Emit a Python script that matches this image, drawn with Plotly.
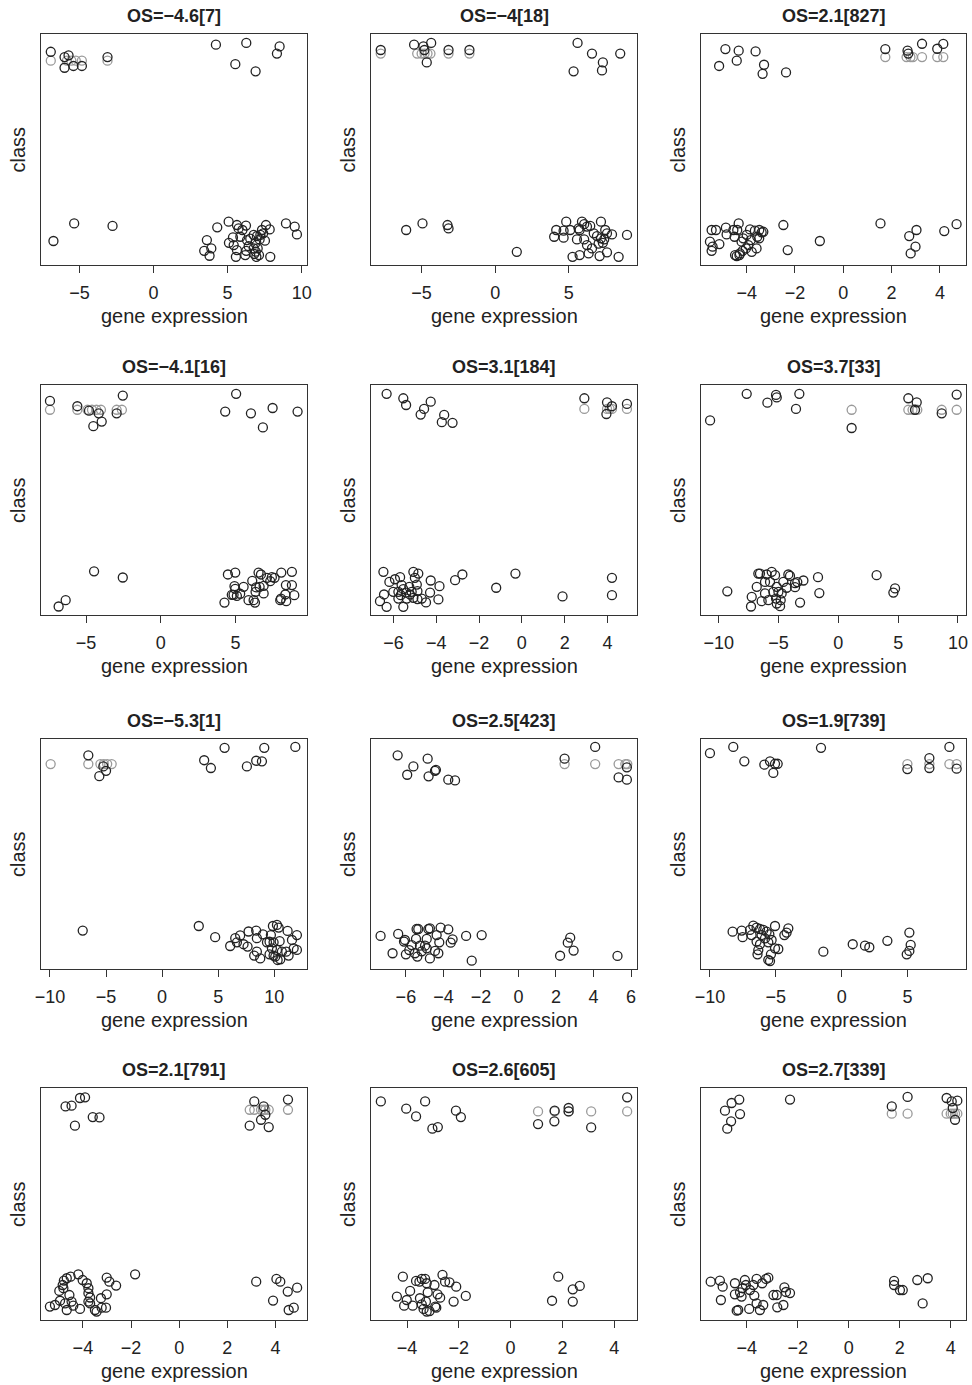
import plotly.graph_objects as go

# ---------------- data ----------------
titles = ["OS=\u22124.6[7]", "OS=\u22124[18]", "OS=2.1[827]",
          "OS=\u22124.1[16]", "OS=3.1[184]", "OS=3.7[33]",
          "OS=\u22125.3[1]", "OS=2.5[423]", "OS=1.9[739]",
          "OS=2.1[791]", "OS=2.6[605]", "OS=2.7[339]"]

x_ranges = [[-7.6, 10.36], [-8.44, 9.64], [-5.89, 5.08],
            [-8.01, 9.78], [-7.05, 5.38], [-11.48, 10.67],
            [-10.8, 12.92], [-7.86, 6.32], [-10.68, 9.44],
            [-5.74, 5.31], [-5.39, 4.88], [-5.79, 4.60]]
x_dtick = [5, 5, 2, 5, 2, 5, 5, 2, 5, 2, 2, 2]

# jittered class (black) points: [gene expression, class]
p1 = [[-6.94,1.05],[-6.01,1.02],[-5.74,1.03],[-6.01,0.96],[-5.41,0.97],[-4.84,0.97],[-3.11,1.02],
      [4.21,1.09],[6.26,1.10],[8.51,1.08],[8.33,1.04],[5.52,0.98],[6.89,0.94],
      [-5.36,0.084],[-2.77,0.07],[-6.76,-0.015],[4.30,0.062],[5.07,0.094],[5.63,0.075],[6.24,0.072],
      [5.74,0.056],[7.59,0.075],[7.84,0.05],[7.32,0.047],[8.94,0.084],[9.53,0.066],[9.68,0.022],
      [3.60,-0.01],[3.90,-0.057],[3.42,-0.07],[3.78,-0.098],[5.09,-0.025],[5.36,0.005],[5.41,-0.038],
      [5.63,-0.066],[5.86,0.009],[5.56,-0.104],[6.31,-0.01],[6.53,-0.002],[6.76,0.019],[6.98,0.013],
      [7.21,0.019],[7.16,-0.006],[7.52,-0.013],[6.87,-0.028],[6.76,-0.057],[7.03,-0.057],[6.26,-0.07],
      [6.19,-0.094],[6.80,-0.088],[6.94,-0.104],[7.12,-0.094],[7.88,-0.104],[6.42,-0.044],[6.0,0.047],
      [7.4,0.028],[6.9,-0.075]]
p2 = [[-7.78,1.06],[-5.51,1.09],[-4.88,1.08],[-4.35,1.10],[-4.81,1.06],[-4.65,0.99],[-3.17,1.06],
      [-1.75,1.06],[5.60,1.10],[6.58,1.04],[8.50,1.04],[7.32,0.99],[7.26,0.945],[5.33,0.94],
      [-6.05,0.047],[-4.94,0.084],[-3.24,0.075],[-3.17,0.056],[1.47,-0.076],
      [4.83,0.094],[4.15,0.047],[4.65,0.043],[5.10,0.047],[4.01,0.009],[4.65,0.004],[5.67,0.056],
      [5.90,0.094],[6.05,0.08],[6.24,0.066],[6.46,0.07],[5.74,0.047],[7.19,0.094],[7.48,0.047],
      [7.60,0.028],[7.94,0.022],[8.96,0.019],[6.92,0.013],[7.19,0.0],[7.41,-0.006],[7.32,-0.025],
      [5.56,-0.006],[6.05,-0.006],[6.24,-0.038],[6.58,-0.057],[6.35,-0.085],[5.74,-0.094],
      [5.26,-0.104],[7.10,-0.1],[7.60,-0.079],[8.39,-0.104],[6.7,0.028],[7.03,-0.03]]
p3 = [[-4.88,1.065],[-4.33,1.056],[-3.63,1.052],[-4.41,1.0],[-5.14,0.97],[-3.28,0.977],[-3.34,0.926],
      [-2.37,0.934],[1.74,1.065],[2.66,1.056],[3.26,1.095],[3.89,1.067],[4.14,1.094],[2.69,1.04],
      [-5.45,0.047],[-5.27,0.047],[-5.52,-0.019],[-5.41,-0.047],[-5.45,-0.07],[-5.13,-0.032],
      [-4.86,0.06],[-4.83,0.022],[-4.55,0.047],[-4.33,0.084],[-4.39,0.047],[-4.5,0.009],[-4.14,0.0],
      [-4.21,-0.019],[-4.0,0.019],[-3.86,0.05],[-3.66,0.043],[-3.48,0.047],[-3.38,0.034],[-3.31,0.037],
      [-3.56,0.009],[-3.48,0.0],[-3.93,-0.038],[-3.79,-0.076],[-3.59,-0.057],[-4.03,-0.057],
      [-4.17,-0.07],[-4.28,-0.085],[-4.41,-0.1],[-4.30,-0.094],[-4.48,-0.094],[-3.83,-0.01],
      [-2.48,0.075],[-2.30,-0.066],[-0.97,-0.015],[1.54,0.084],[4.69,0.08],[4.18,0.041],[3.03,0.047],
      [2.73,0.013],[2.99,-0.047],[2.79,-0.085]]
p4 = [[-7.41,1.06],[-5.58,1.03],[-4.80,1.005],[-2.54,1.09],[-2.95,0.99],[-3.95,0.943],[-4.51,0.917],
      [-4.15,0.99],[5.04,1.10],[4.31,1.0],[6.03,0.99],[7.48,1.02],[9.15,1.0],[6.83,0.91],
      [-4.46,0.097],[-2.54,0.062],[-6.36,-0.066],[-6.83,-0.102],
      [4.49,0.079],[4.98,0.09],[6.54,0.09],[6.70,0.079],[7.10,0.06],[7.43,0.064],[7.61,0.06],
      [7.32,0.041],[8.06,0.09],[8.77,0.094],[8.77,0.019],[8.37,0.019],[8.33,-0.034],[8.93,-0.038],
      [8.39,-0.072],[7.99,-0.066],[8.04,-0.057],[4.93,0.013],[4.98,-0.002],[5.54,0.009],[6.12,0.043],
      [6.38,0.006],[6.61,0.009],[6.34,-0.019],[6.88,-0.028],[6.21,-0.066],[5.87,-0.066],[6.30,-0.08],
      [5.31,-0.03],[4.87,-0.036],[5.09,-0.042],[4.75,-0.036],[4.26,-0.08],[6.88,0.015]]
p5 = [[-6.32,1.10],[-5.54,1.075],[-5.41,1.037],[-4.26,1.056],[-4.57,1.015],[-4.73,0.983],[-3.63,0.981],
      [-3.74,0.94],[-3.24,0.936],[2.92,1.075],[3.98,1.052],[4.21,1.03],[4.91,1.043],[3.95,0.986],
      [-6.47,0.094],[-6.19,0.037],[-5.93,0.052],[-5.69,0.064],[-5.07,0.094],[-4.84,0.084],[-5.0,0.06],
      [-4.91,0.022],[-4.26,0.045],[-3.85,0.013],[-4.29,-0.023],[-3.90,-0.062],[-4.48,-0.079],
      [-4.68,-0.057],[-4.88,-0.06],[-5.07,-0.053],[-5.23,-0.034],[-5.38,-0.057],[-5.54,-0.104],
      [-6.32,-0.104],[-6.63,-0.072],[-6.44,-0.034],[-6.01,-0.019],[-5.77,-0.019],[-5.66,-0.038],
      [-5.54,-0.004],[-5.41,-0.023],[-5.15,-0.019],[-4.88,-0.015],[-5.62,0.019],[-5.26,0.009],
      [-5.77,-0.057],[-3.12,0.047],[-2.78,0.079],[-1.20,0.004],[-0.30,0.084],[1.90,-0.045],
      [4.21,0.06],[4.21,-0.038]]
p6 = [[-7.66,1.10],[-5.21,1.094],[-5.15,1.08],[-5.93,1.05],[-3.26,1.10],[-3.54,1.015],[-10.72,0.95],
      [1.11,0.907],[5.85,1.075],[6.55,1.052],[9.89,1.096],[8.64,0.99],[6.41,1.01],
      [-9.28,-0.016],[-6.69,0.084],[-6.55,0.084],[-5.99,0.079],[-5.57,0.094],[-5.29,0.075],
      [-5.71,0.037],[-6.13,0.037],[-6.82,0.009],[-6.13,-0.028],[-6.41,-0.072],[-7.24,-0.047],
      [-7.30,-0.102],[-5.85,-0.066],[-5.21,-0.057],[-5.15,-0.085],[-4.87,-0.1],[-4.82,-0.066],
      [-4.74,-0.028],[-5.01,-0.019],[-4.60,0.037],[-4.18,0.079],[-4.04,0.071],[-4.32,0.004],
      [-3.62,0.03],[-3.43,0.036],[-2.92,0.045],[-3.62,0.007],[-3.20,-0.08],[-1.70,0.064],
      [-1.59,-0.026],[3.20,0.075],[4.74,0.0],[4.60,-0.023],[-5.15,0.009],[-5.43,-0.019]]
p7 = [[-6.58,1.058],[-5.60,0.94],[-5.0,0.97],[-5.24,0.995],[5.57,1.10],[9.11,1.10],[11.88,1.105],
      [3.75,1.03],[4.35,0.986],[7.56,0.995],[8.39,1.027],[8.90,1.024],
      [-7.08,0.067],[3.27,0.093],[4.73,0.03],
      [6.07,-0.02],[6.52,0.024],[6.96,0.04],[6.67,0.001],[7.26,-0.01],[7.62,-0.023],[7.71,0.062],
      [8.39,0.067],[8.45,0.024],[8.99,0.046],[8.45,-0.052],[8.21,-0.074],[8.75,-0.09],[9.88,0.093],
      [10.24,0.099],[10.39,0.084],[11.19,0.065],[12.02,0.042],[11.58,0.014],[11.73,-0.033],
      [12.02,-0.042],[11.07,-0.052],[11.28,-0.074],[9.70,0.042],[9.58,0.004],[9.94,0.001],
      [10.48,0.007],[9.79,-0.033],[10.24,-0.042],[9.58,-0.067],[10.09,-0.08],[10.30,-0.099],
      [10.54,-0.095],[10.68,-0.052],[9.35,0.001],[9.94,-0.074]]
p8 = [[-6.44,1.058],[-5.60,0.995],[-5.93,0.948],[-4.84,1.039],[-4.79,0.939],[-4.45,0.97],[-4.40,0.976],
      [-3.74,0.92],[-3.38,0.916],[2.46,1.039],[4.09,1.105],[5.34,0.933],[5.78,0.92],[5.78,0.99],
      [-7.35,0.037],[-6.41,0.048],[-6.71,-0.061],[-6.0,-0.067],[-6.05,0.014],[-6.10,0.005],
      [-5.43,0.076],[-5.34,0.076],[-5.46,0.02],[-5.69,-0.015],[-5.82,-0.043],[-5.52,-0.061],
      [-5.39,-0.08],[-5.25,-0.018],[-4.98,-0.018],[-4.89,0.02],[-4.80,0.076],[-4.72,0.08],
      [-4.89,-0.033],[-4.72,-0.09],[-4.45,-0.048],[-4.27,-0.061],[-4.36,0.042],[-4.22,0.001],
      [-4.15,0.084],[-3.74,0.074],[-3.51,0.018],[-3.61,-0.001],[-2.79,0.037],[-1.96,0.042],
      [-2.49,-0.103],[2.22,-0.075],[2.76,0.027],[2.63,-0.001],[2.94,-0.046],[5.28,-0.076],
      [-5.16,-0.05]]
p9 = [[-10.0,1.07],[-8.23,1.105],[-7.39,1.024],[-5.87,1.005],[-5.44,1.024],[-5.06,1.01],[-4.86,1.01],
      [-5.19,0.958],[-1.57,1.10],[4.99,0.98],[6.66,1.042],[6.66,0.986],[8.18,1.105],[8.73,0.982],
      [-8.28,0.061],[-7.59,0.067],[-7.52,0.03],[-6.71,0.095],[-6.96,0.071],[-6.84,0.042],
      [-6.46,0.084],[-6.20,0.076],[-5.95,0.071],[-5.70,0.061],[-5.49,0.046],[-6.08,0.042],
      [-6.46,0.005],[-6.20,-0.01],[-5.57,0.001],[-6.33,-0.043],[-6.39,-0.067],[-5.37,-0.067],
      [-5.57,-0.099],[-5.44,-0.105],[-5.06,-0.033],[-4.81,-0.037],[-5.06,0.093],[-4.35,0.042],
      [-4.18,0.056],[-4.05,0.08],[-1.39,-0.052],[0.84,-0.01],[1.77,-0.018],[2.10,-0.027],
      [3.47,0.009],[5.14,0.056],[5.24,-0.014],[5.14,-0.048],[4.94,-0.067],[-5.82,0.023],
      [-5.32,0.014]]
p10 = [[-4.72,1.047],[-4.47,1.051],[-4.12,1.094],[-3.91,1.098],[-4.33,0.939],[-3.59,0.987],
       [-3.31,0.985],[3.12,1.075],[3.51,1.047],[4.52,1.085],[2.93,0.939],[3.40,0.972],[3.72,0.931],
       [3.58,1.0],
       [-5.37,-0.075],[-5.16,-0.066],[-4.95,-0.042],[-4.98,0.013],[-4.84,0.046],[-4.79,0.071],
       [-4.67,0.084],[-4.51,0.093],[-4.19,0.106],[-4.01,0.074],[-3.84,0.056],[-3.77,0.028],
       [-3.77,0.0],[-4.81,0.028],[-4.74,-0.057],[-4.67,-0.094],[-4.47,-0.047],[-4.40,-0.07],
       [-4.12,-0.088],[-3.77,-0.047],[-3.70,-0.057],[-3.50,-0.094],[-3.43,-0.103],[-3.22,-0.081],
       [-3.04,-0.081],[-3.25,-0.028],[-3.01,-0.006],[-3.01,0.088],[-2.90,0.065],[-2.62,0.043],
       [-1.83,0.106],[3.20,0.065],[4.04,0.08],[4.20,0.065],[4.90,0.031],[4.51,0.009],[3.90,-0.041],
       [4.76,-0.081],[4.55,-0.094],[-3.70,-0.024],[-4.56,-0.01]]
p11 = [[-5.01,1.075],[-4.03,1.034],[-3.65,0.991],[-3.30,1.075],[-3.02,0.922],[-2.81,0.931],
       [-2.11,1.023],[-1.92,0.987],[1.06,0.948],[1.70,1.023],[1.69,0.963],[2.24,1.038],[2.24,1.019],
       [3.11,0.929],[4.50,1.098],
       [-4.16,0.093],[-4.39,-0.019],[-4.11,-0.07],[-4.01,-0.038],[-3.88,0.013],[-3.78,-0.07],
       [-3.65,0.069],[-3.52,0.065],[-3.43,0.08],[-3.30,0.08],[-3.24,0.056],[-3.50,-0.028],
       [-3.43,-0.062],[-3.36,-0.088],[-3.24,-0.103],[-3.13,-0.1],[-3.27,-0.047],[-3.20,0.005],
       [-2.94,0.046],[-2.87,-0.081],[-2.82,-0.006],[-2.63,0.103],[-2.53,0.065],[-2.36,0.061],
       [-2.72,-0.025],[-2.10,0.037],[-2.20,-0.047],[-1.73,-0.015],[1.84,0.093],[2.67,0.041],
       [2.40,0.022],[1.60,-0.042],[2.40,-0.047],[-2.91,-0.075]]
p12 = [[-4.85,1.023],[-4.59,1.066],[-4.29,1.085],[-4.26,1.004],[-4.61,0.963],[-4.76,0.922],
       [-2.30,1.085],[1.69,1.047],[2.31,1.10],[3.84,1.094],[4.04,1.075],[4.26,1.079],[4.08,1.038],
       [4.17,0.972],
       [-5.41,0.065],[-5.05,0.071],[-4.94,0.037],[-5.01,-0.038],[-4.46,0.056],[-4.46,-0.006],
       [-4.39,-0.098],[-4.33,-0.094],[-4.26,0.005],[-4.16,0.028],[-4.07,0.074],[-4.03,0.046],
       [-3.87,0.018],[-3.74,0.046],[-3.70,-0.013],[-3.61,0.08],[-3.90,-0.088],[-3.61,-0.057],
       [-3.48,-0.094],[-3.35,-0.066],[-3.39,0.056],[-3.24,0.08],[-3.15,0.087],[-2.95,-0.01],
       [-2.82,-0.01],[-2.80,-0.079],[-2.56,-0.066],[-2.52,0.033],[-2.46,0.007],[-2.30,0.001],
       [1.78,0.069],[1.78,0.046],[2.01,0.018],[2.12,0.018],[2.69,0.074],[3.10,0.084],[2.90,-0.057],
       [-4.20,-0.019]]
black_points = [p1, p2, p3, p4, p5, p6, p7, p8, p9, p10, p11, p12]

# un-jittered class-1 points (grey): gene expression values and their class level
g1 = [-6.94, -5.85, -5.55, -5.25, -4.84, -3.11]
g2 = [-7.78, -5.3, -5.0, -4.8, -4.6, -4.4, -3.17, -1.75]
g3 = [1.74, 2.62, 2.78, 2.88, 3.26, 3.89, 4.14]
g4 = [-7.41, -5.58, -4.9, -4.6, -4.3, -4.0, -2.95, -2.6]
g5 = [2.92, 3.98, 4.1, 4.21, 4.91]
g6 = [1.11, 5.85, 6.2, 6.41, 6.6, 8.64, 9.89]
g7 = [-9.94, -6.58, -5.5, -5.2, -4.9, -4.5]
g8 = [2.46, 4.09, 5.34, 5.7, 5.8]
g9 = [4.99, 6.66, 8.18, 8.73]
g10 = [2.93, 3.12, 3.40, 3.51, 3.58, 3.72, 4.52]
g11 = [1.06, 1.70, 2.24, 3.11, 4.50]
g12 = [1.69, 2.31, 3.84, 4.0, 4.08, 4.17, 4.26]
grey_points = [g1, g2, g3, g4, g5, g6, g7, g8, g9, g10, g11, g12]
grey_level = [1.0, 1.04, 1.02, 1.01, 1.015, 1.01, 1.008, 1.008, 1.008, 1.028, 1.019, 1.006]

y_range = [-0.15, 1.15]

# ---------------- layout ----------------
W, H = 972, 1385
col_px = [(41, 307), (371, 637), (701, 966)]
row_px = [(34, 265), (385, 615), (739, 969), (1088, 1320)]

FONT = "Liberation Sans, Arial, sans-serif"
INK = "#222222"
GREY = "#9a9a9a"

fig = go.Figure()
annotations = []
layout_axes = {}

for i in range(12):
    r, c = divmod(i, 3)
    l, rr = col_px[c]
    t, b = row_px[r]
    n = i + 1
    xa = "x" if n == 1 else f"x{n}"
    ya = "y" if n == 1 else f"y{n}"
    xkey = "xaxis" if n == 1 else f"xaxis{n}"
    ykey = "yaxis" if n == 1 else f"yaxis{n}"

    gx = grey_points[i]
    fig.add_trace(go.Scatter(
        x=gx, y=[grey_level[i]] * len(gx), mode="markers", xaxis=xa, yaxis=ya,
        marker=dict(symbol="circle-open", size=9, color=GREY, line=dict(width=1.3, color=GREY)),
        showlegend=False, hoverinfo="skip"))
    bx = [p[0] for p in black_points[i]]
    by = [p[1] for p in black_points[i]]
    fig.add_trace(go.Scatter(
        x=bx, y=by, mode="markers", xaxis=xa, yaxis=ya,
        marker=dict(symbol="circle-open", size=9, color=INK, line=dict(width=1.3, color=INK)),
        showlegend=False, hoverinfo="skip"))

    layout_axes[xkey] = dict(
        domain=[l / W, rr / W], range=x_ranges[i], anchor=ya, automargin=False,
        showline=True, linecolor="#333333", linewidth=1, mirror=True,
        ticks="outside", ticklen=7, tickwidth=1, tickcolor="#333333",
        ticklabelstandoff=4,
        tick0=0, dtick=x_dtick[i], showgrid=False, zeroline=False,
        tickfont=dict(family=FONT, size=18, color=INK))
    layout_axes[ykey] = dict(
        domain=[1 - b / H, 1 - t / H], range=y_range, anchor=xa, automargin=False,
        showline=True, linecolor="#333333", linewidth=1, mirror=True,
        ticks="", showticklabels=False, showgrid=False, zeroline=False)

    cx = (l + rr) / 2 / W
    annotations.append(dict(text=f"<b>{titles[i]}</b>", x=cx, y=1 - (t - 18) / H,
                            xref="paper", yref="paper", xanchor="center", yanchor="middle",
                            showarrow=False, font=dict(family=FONT, size=18, color=INK)))
    annotations.append(dict(text="gene expression", x=cx, y=1 - (b + 51) / H,
                            xref="paper", yref="paper", xanchor="center", yanchor="middle",
                            showarrow=False, font=dict(family=FONT, size=20, color=INK)))
    annotations.append(dict(text="class", x=(l - 23) / W, y=1 - (t + b) / 2 / H,
                            xref="paper", yref="paper", xanchor="center", yanchor="middle",
                            textangle=-90, showarrow=False,
                            font=dict(family=FONT, size=20, color=INK)))

fig.update_layout(
    width=W, height=H, margin=dict(l=0, r=0, t=0, b=0, autoexpand=False),
    paper_bgcolor="white", plot_bgcolor="white",
    annotations=annotations, **layout_axes)

fig.write_html("out.html", config={"displayModeBar": False},
               post_script="document.body.style.margin='0';document.body.style.overflow='hidden';")
